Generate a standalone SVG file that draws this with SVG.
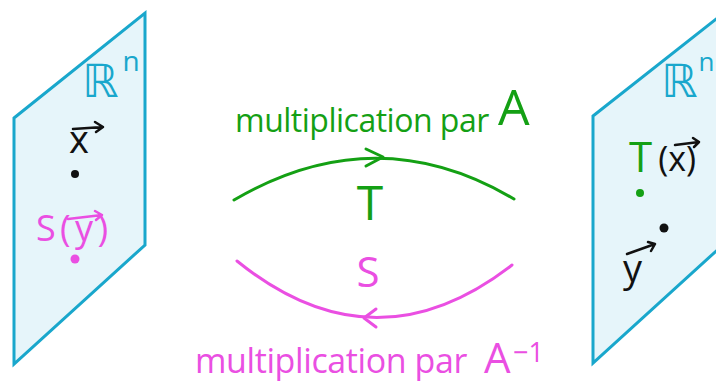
<svg xmlns="http://www.w3.org/2000/svg" width="716" height="385" viewBox="0 0 716 385">
<style>
.plane{fill:#e6f5fa;stroke:#19a7cc;stroke-width:3;stroke-linejoin:miter}
.t{font-family:"Open Sans","DejaVu Sans",sans-serif}
.r{font-family:"DejaVu Sans",sans-serif}
.cy{fill:#19a7cc}
.gr{fill:#14a014}
.mg{fill:#ea4fe2}
.bk{fill:#111}
.vk{fill:none;stroke:#111;stroke-width:2.5;stroke-linecap:round;stroke-linejoin:round}
.vm{fill:none;stroke:#ea4fe2;stroke-width:2.5;stroke-linecap:round;stroke-linejoin:round}
.arcg{fill:none;stroke:#14a014;stroke-width:3;stroke-linecap:round;stroke-linejoin:round}
.arcm{fill:none;stroke:#ea4fe2;stroke-width:3;stroke-linecap:round;stroke-linejoin:round}
</style>
<rect width="716" height="385" fill="#fff"/>
<g id="left-plane">
<polygon class="plane" points="14,118 145,13 145,245 14,364"/>
<text class="r cy" x="82" y="97" font-size="46">ℝ<tspan class="t" font-size="28" dx="4" dy="-26">n</tspan></text>
<text class="t bk" x="69" y="153" font-size="38">x</text>
<path class="vk" d="M73,129 L103,127 M95,122 L103,127 L96,132"/>
<circle cx="75" cy="174" r="4" fill="#111"/>
<text class="t mg" x="36" y="241" font-size="36" textLength="72" lengthAdjust="spacing">S(y)</text>
<path class="vm" d="M68,219 L102,215 M95,211 L102,215 L96,220"/>
<circle cx="75" cy="259" r="4.5" fill="#ea4fe2"/>
</g>
<g id="right-plane">
<polygon class="plane" points="593,116 725,12 725,243 593,363"/>
<text class="r cy" x="661" y="97" font-size="46">ℝ<tspan class="t" font-size="26" dx="1" dy="-26">n</tspan></text>
<text class="t gr" x="629" y="172" font-size="42">T<tspan class="bk" font-size="34" dx="6" dy="-1">(x)</tspan></text>
<path class="vk" d="M675,145 L699,142 M693,138 L699,142 L694,147"/>
<circle cx="640" cy="193" r="4" fill="#14a014"/>
<circle cx="664" cy="228" r="4.5" fill="#111"/>
<text class="t bk" x="623" y="282" font-size="38">y</text>
<path class="vk" d="M627,254 L655,244 M648,242 L655,244 L651,251"/>
</g>
<g id="connectors">
<path class="arcg" d="M234,200 Q376,117 514,199"/>
<path class="arcg" d="M366,149 L383,157 L366,166"/>
<path class="arcm" d="M237,261 Q374,372 512,265"/>
<path class="arcm" d="M376,309 L364,318 L376,327"/>
</g>
<g id="label-T">
<text class="t gr" x="370" y="220" font-size="48" text-anchor="middle">T</text>
<text class="t gr" x="235" y="132" font-size="32" letter-spacing="-0.5">multiplication par</text>
<text class="t gr" x="498" y="125" font-size="50">A</text>
</g>
<g id="label-S">
<text class="t mg" x="195" y="287" font-size="42" dx="173" text-anchor="middle">S</text>
<text class="t mg" x="195" y="373" font-size="34" letter-spacing="-0.4">multiplication par</text>
<text class="t mg" x="484" y="373" font-size="42">A</text>
<text class="t mg" x="513" y="362" font-size="27">−1</text>
</g>
</svg>
